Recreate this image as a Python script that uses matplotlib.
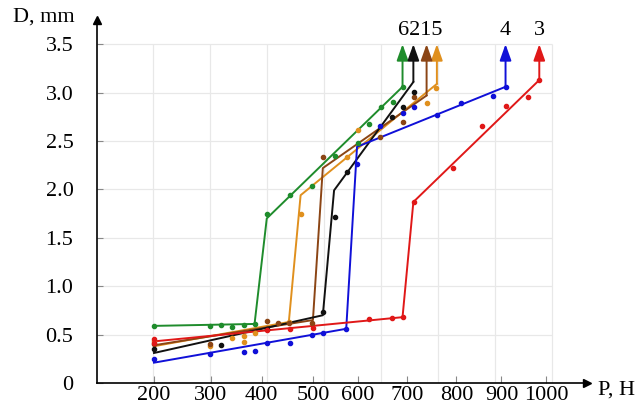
import numpy as np
import matplotlib
matplotlib.use('Agg')
from matplotlib import pyplot as plt

plt.rcParams['font.family'] = ['Liberation Serif', 'DejaVu Serif']

# P tick values and where they sit along the (uneven) printed axis, in grid units
P_TICKS = [0, 100, 200, 300, 400, 500, 600, 700, 800, 900, 1000, 1100, 1200]
P_AXIS = [2, 102, 202, 302, 391, 481, 560, 647, 733, 812, 891, 970, 1070]

D_TICKS = [0, 0.5, 1.0, 1.5, 2.0, 2.5, 3.0, 3.5]
D_LABELS = ['0', '0.5', '1.0', '1.5', '2.0', '2.5', '3.0', '3.5']

# curve 6 (green)
c6_line_p = [200, 386, 410, 690]
c6_line_d = [0.59, 0.61, 1.70, 3.06]
c6_pts_p = [200, 298, 320, 341, 365, 386, 410, 455, 498, 549, 600, 622, 646, 670, 690]
c6_pts_d = [0.59, 0.59, 0.60, 0.58, 0.60, 0.61, 1.75, 1.94, 2.04, 2.34, 2.48, 2.68, 2.85, 2.90, 3.06]

# curve 5 (orange)
c5_line_p = [200, 453, 476, 760]
c5_line_d = [0.38, 0.63, 1.94, 3.09]
c5_pts_p = [200, 298, 341, 365, 365, 386, 453, 476, 576, 600, 739, 759]
c5_pts_d = [0.43, 0.38, 0.46, 0.49, 0.42, 0.52, 0.63, 1.75, 2.33, 2.61, 2.89, 3.05]

# curve 1 (brown)
c1_line_p = [200, 500, 522, 739]
c1_line_d = [0.39, 0.65, 2.22, 2.97]
c1_pts_p = [200, 298, 410, 431, 453, 498, 522, 644, 690, 714]
c1_pts_d = [0.40, 0.40, 0.64, 0.62, 0.62, 0.62, 2.33, 2.54, 2.70, 2.95]

# curve 2 (black)
c2_line_p = [200, 522, 547, 712]
c2_line_d = [0.31, 0.70, 1.99, 3.11]
c2_pts_p = [200, 320, 410, 522, 549, 576, 668, 690, 714]
c2_pts_d = [0.35, 0.39, 0.56, 0.73, 1.71, 2.18, 2.75, 2.85, 3.01]

# curve 4 (blue)
c4_line_p = [200, 574, 598, 909]
c4_line_d = [0.21, 0.56, 2.44, 3.06]
c4_pts_p = [200, 298, 365, 386, 410, 455, 498, 522, 574, 598, 644, 690, 714, 761, 809, 882, 909]
c4_pts_d = [0.25, 0.30, 0.32, 0.33, 0.41, 0.41, 0.50, 0.52, 0.56, 2.26, 2.66, 2.79, 2.85, 2.77, 2.89, 2.96, 3.06]

# curve 3 (red)
c3_line_p = [200, 690, 712, 984]
c3_line_d = [0.43, 0.68, 1.87, 3.13]
c3_pts_p = [200, 200, 410, 455, 500, 622, 668, 690, 714, 792, 857, 909, 960, 984]
c3_pts_d = [0.45, 0.41, 0.55, 0.56, 0.57, 0.66, 0.67, 0.68, 1.87, 2.22, 2.66, 2.86, 2.95, 3.13]

curves = [
    ('6', '#1f8c2c', c6_line_p, c6_line_d, c6_pts_p, c6_pts_d),
    ('5', '#e0901e', c5_line_p, c5_line_d, c5_pts_p, c5_pts_d),
    ('1', '#8b4515', c1_line_p, c1_line_d, c1_pts_p, c1_pts_d),
    ('2', '#111111', c2_line_p, c2_line_d, c2_pts_p, c2_pts_d),
    ('4', '#1010d8', c4_line_p, c4_line_d, c4_pts_p, c4_pts_d),
    ('3', '#e01818', c3_line_p, c3_line_d, c3_pts_p, c3_pts_d),
]

# curve numbers printed above the arrows; close arrows share one label
label_groups = [['6', '2', '1', '5'], ['4'], ['3']]


def to_axis(v):
    return np.interp(v, P_TICKS, P_AXIS)


def from_axis(g):
    return np.interp(g, P_AXIS, P_TICKS)


def main():
    fig = plt.figure(figsize=(6.43, 4.09), dpi=100)
    ax = fig.add_axes([97 / 643, 26 / 409, 490 / 643, 363 / 409])
    ax.set_xscale('function', functions=(to_axis, from_axis))
    ax.set_xlim(100, 1090)
    ax.set_ylim(0, 3.75)

    # grid of the original drawing, evenly spaced in grid units
    grid_x = from_axis(np.arange(200, 901, 100))
    ax.vlines(grid_x, 0, 3.5, color='#e8e8e8', lw=0.9, zorder=0)
    ax.hlines(D_TICKS[1:], 100, grid_x[-1], color='#e8e8e8', lw=0.9, zorder=0)

    end_p = {}
    for name, color, lp, ld, pp, pd in curves:
        ax.plot(lp, ld, color=color, lw=1.4, zorder=3)
        ax.plot(pp, pd, 'o', color=color, ms=3, zorder=4)
        ax.annotate('', xy=(lp[-1], 3.5), xytext=(lp[-1], ld[-1]),
                    arrowprops=dict(arrowstyle='-|>,head_length=0.7,head_width=0.25',
                                    color=color, lw=1.4, shrinkA=0, shrinkB=0,
                                    mutation_scale=14),
                    annotation_clip=False, zorder=4)
        end_p[name] = lp[-1]

    for group in label_groups:
        g = np.mean([to_axis(end_p[n]) for n in group])
        ax.text(from_axis(g), 3.64, ''.join(group), ha='center', va='center', fontsize=16)

    ax.spines['top'].set_visible(False)
    ax.spines['right'].set_visible(False)
    for s in ['left', 'bottom']:
        ax.spines[s].set_linewidth(1.2)
    ax.plot(1, 0, marker='>', color='k', ms=6, transform=ax.get_yaxis_transform(), clip_on=False)
    ax.plot(100, 1, marker='^', color='k', ms=6, transform=ax.get_xaxis_transform(), clip_on=False)

    ax.set_xticks(range(200, 1001, 100))
    ax.set_xticklabels([str(v) for v in range(200, 1001, 100)])
    ax.xaxis.set_minor_locator(matplotlib.ticker.NullLocator())
    ax.set_yticks(D_TICKS)
    ax.set_yticklabels(D_LABELS)
    ax.tick_params(axis='x', direction='in', length=5, width=0.8, color='#888888',
                   labelsize=16, pad=2)
    ax.tick_params(axis='y', direction='in', length=4, width=0.8, color='#888888',
                   labelsize=16, pad=17)

    fig.text(598 / 643, 1 - 390 / 409, 'P, H', ha='left', va='center', fontsize=16)
    fig.text(13 / 643, 1 - 17 / 409, 'D, mm', ha='left', va='center', fontsize=16)

    plt.savefig('out.png', dpi=100)


if __name__ == "__main__":
    main()
